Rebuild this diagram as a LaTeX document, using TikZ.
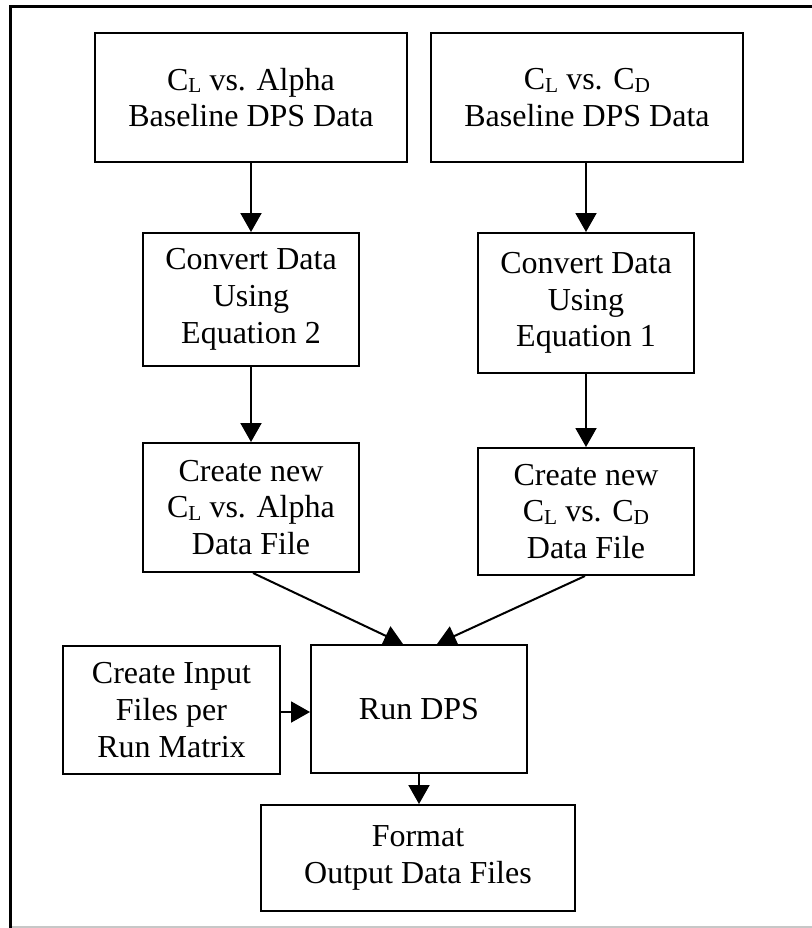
\documentclass[tikz,border=0pt]{standalone}
\usepackage{fontspec}
\setmainfont{Liberation Serif}
\usetikzlibrary{arrows.meta}
\newcommand\mysub[1]{\raisebox{-2pt}{\fontsize{16}{16}\selectfont #1}}
\tikzset{
  stepbox/.style={draw, line width=1.5pt, inner sep=0pt, align=center,
    font=\fontsize{24}{27.6}\selectfont},
  flow/.style={line width=1.5pt, -{Triangle[length=14.25pt,width=15.75pt]}},
  frame/.style={line width=2pt, line cap=rect}
}
\begin{document}
\begin{tikzpicture}[x=0.75pt,y=-0.75pt]
\useasboundingbox (0,0) rectangle (812,928);
% frame
\coordinate (ftl) at (10.5,6.5);
\coordinate (ftr) at (812,6.5);
\coordinate (fbl) at (10.5,928);
\coordinate (gl) at (10.5,927);
\coordinate (gr) at (812,927);
\draw[line width=1.2pt, black!22] (gl) -- (gr);
\draw[frame] (ftr) -- (ftl) -- (fbl);
% boxes
\node[stepbox, minimum width=234pt, minimum height=96.75pt] (b1) at (251,97.5)
  {C\mysub{L} vs. Alpha\\Baseline DPS Data};
\node[stepbox, minimum width=234pt, minimum height=96.75pt] (b2) at (587,97.5)
  {C\mysub{L} vs. C\mysub{D}\\Baseline DPS Data};
\node[stepbox, minimum width=162pt, minimum height=99.75pt] (b3) at (251,299.5)
  {Convert Data\\Using\\Equation 2};
\node[stepbox, minimum width=162pt, minimum height=105pt] (b4) at (586,303)
  {Convert Data\\Using\\Equation 1};
\node[stepbox, minimum width=162pt, minimum height=96.75pt] (b5) at (251,507.5)
  {Create new\\C\mysub{L} vs. Alpha\\Data File};
\node[stepbox, minimum width=162pt, minimum height=95.25pt] (b6) at (586,511.5)
  {Create new\\C\mysub{L} vs. C\mysub{D}\\Data File};
\node[stepbox, minimum width=162.75pt, minimum height=96pt] (b7) at (171.5,710)
  {Create Input\\Files per\\Run Matrix};
\node[stepbox, minimum width=162pt, minimum height=96pt] (b8) at (419,709)
  {Run DPS};
\node[stepbox, minimum width=235.5pt, minimum height=79.5pt] (b9) at (418,858)
  {Format\\Output Data Files};
% connectors
\draw[flow] (b1.south) -- (b1.south |- b3.north);
\draw[flow] (b2.south -| b4.north) -- (b4.north);
\draw[flow] (b3.south) -- (b5.north);
\draw[flow] (b4.south) -- (b6.north);
\draw[flow] ([xshift=1.5pt]b5.south) -- ([xshift=-12pt]b8.north);
\draw[flow] ([xshift=-0.75pt]b6.south) -- ([xshift=13.5pt]b8.north);
\draw[flow] ([yshift=-1.5pt]b7.east) -- ([yshift=-1.5pt]b7.east -| b8.west);
\draw[flow] (b8.south) -- (b8.south |- b9.north);
\end{tikzpicture}
\end{document}
